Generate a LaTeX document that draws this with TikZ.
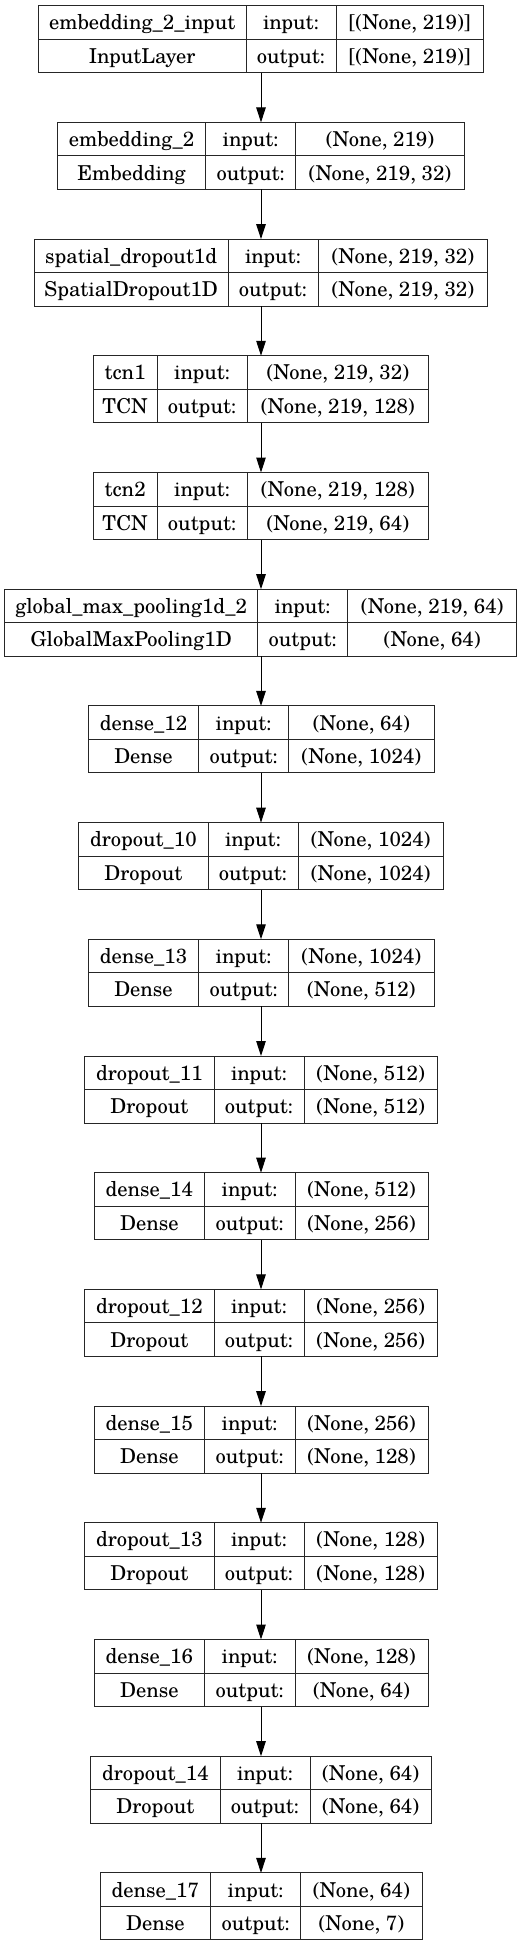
\documentclass[tikz,border=0pt]{standalone}
\usepackage{fontspec}
\setmainfont{TeX Gyre Schola}
\usetikzlibrary{arrows.meta}
\tikzset{
  lbox/.style={draw=black!85, line width=1pt, inner sep=0pt, outer sep=0pt, minimum height=67pt},
  lline/.style={draw=black!85, line width=1pt},
  ltext/.style={inner sep=0pt, anchor=base, font=\fontsize{20.5}{24}\selectfont},
  larrow/.style={draw=black, line width=1pt, -{Triangle[length=15pt,width=9.5pt]}},
}
\newcommand\layerbox[6]{%
  \pgfmathsetmacro\lyt{5.7+#2*116.7}%
  \pgfmathsetmacro\lyb{\lyt+67}%
  \pgfmathsetmacro\lwidth{#6-#3}%
  \pgfmathsetmacro\lca{(#3+#4)/2}%
  \pgfmathsetmacro\lcb{(#4+#5)/2}%
  \pgfmathsetmacro\lcc{(#5+#6)/2}%
  \pgfmathsetmacro\lra{\lyt+16.75+7.4}%
  \pgfmathsetmacro\lrb{\lyt+50.25+7.4}%
  \node[lbox, minimum width=\lwidth pt, anchor=north west] (#1) at (#3,\lyt) {};
  \draw[lline] (#1.west) -- (#1.east);
  \draw[lline] (#4,\lyt) -- (#4,\lyb);
  \draw[lline] (#5,\lyt) -- (#5,\lyb);
}
\newcommand\layertext[5]{%
  \node[ltext] (#1-n) at (\lca,\lra) {#2};
  \node[ltext] (#1-t) at (\lca,\lrb) {#3};
  \node[ltext] (#1-i) at (\lcb,\lra) {input:};
  \node[ltext] (#1-o) at (\lcb,\lrb) {output:};
  \node[ltext] (#1-x) at (\lcc,\lra) {#4};
  \node[ltext] (#1-y) at (\lcc,\lrb) {#5};
}
\begin{document}
\begin{tikzpicture}[x=1pt,y=-1pt]
  \fill[white] (0,0) rectangle (523,1946);
  \useasboundingbox (0,0) rectangle (523,1946);
  \coordinate (ax) at (261,0);

  \layerbox{L0}{0}{38.3}{246}{336}{483.3}
  \layertext{L0}{embedding\_2\_input}{InputLayer}{[(None, 219)]}{[(None, 219)]}
  \layerbox{L1}{1}{57.3}{205.7}{295.7}{464.3}
  \layertext{L1}{embedding\_2}{Embedding}{(None, 219)}{(None, 219, 32)}
  \layerbox{L2}{2}{34.3}{228}{318}{487.7}
  \layertext{L2}{spatial\_dropout1d}{SpatialDropout1D}{(None, 219, 32)}{(None, 219, 32)}
  \layerbox{L3}{3}{93.3}{157}{247.3}{428.3}
  \layertext{L3}{tcn1}{TCN}{(None, 219, 32)}{(None, 219, 128)}
  \layerbox{L4}{4}{93.3}{157}{247.3}{428.3}
  \layertext{L4}{tcn2}{TCN}{(None, 219, 128)}{(None, 219, 64)}
  \layerbox{L5}{5}{4.7}{257.7}{347.7}{516.7}
  \layertext{L5}{global\_max\_pooling1d\_2}{GlobalMaxPooling1D}{(None, 219, 64)}{(None, 64)}
  \layerbox{L6}{6}{88.3}{198.7}{288.7}{434}
  \layertext{L6}{dense\_12}{Dense}{(None, 64)}{(None, 1024)}
  \layerbox{L7}{7}{78.7}{208}{298}{443.3}
  \layertext{L7}{dropout\_10}{Dropout}{(None, 1024)}{(None, 1024)}
  \layerbox{L8}{8}{88.3}{198.7}{288.7}{434}
  \layertext{L8}{dense\_13}{Dense}{(None, 1024)}{(None, 512)}
  \layerbox{L9}{9}{84.7}{214}{304}{437.3}
  \layertext{L9}{dropout\_11}{Dropout}{(None, 512)}{(None, 512)}
  \layerbox{L10}{10}{94.3}{204.3}{295}{428}
  \layertext{L10}{dense\_14}{Dense}{(None, 512)}{(None, 256)}
  \layerbox{L11}{11}{84.7}{214}{304}{437.3}
  \layertext{L11}{dropout\_12}{Dropout}{(None, 256)}{(None, 256)}
  \layerbox{L12}{12}{94.3}{204.3}{295}{428}
  \layertext{L12}{dense\_15}{Dense}{(None, 256)}{(None, 128)}
  \layerbox{L13}{13}{84.7}{214}{304}{437.3}
  \layertext{L13}{dropout\_13}{Dropout}{(None, 128)}{(None, 128)}
  \layerbox{L14}{14}{94.3}{204.3}{295}{428}
  \layertext{L14}{dense\_16}{Dense}{(None, 128)}{(None, 64)}
  \layerbox{L15}{15}{90.7}{220}{310}{431.3}
  \layertext{L15}{dropout\_14}{Dropout}{(None, 64)}{(None, 64)}
  \layerbox{L16}{16}{100}{210.7}{300.7}{422}
  \layertext{L16}{dense\_17}{Dense}{(None, 64)}{(None, 7)}

  \foreach \a/\b in {L0/L1,L1/L2,L2/L3,L3/L4,L4/L5,L5/L6,L6/L7,L7/L8,L8/L9,L9/L10,L10/L11,L11/L12,L12/L13,L13/L14,L14/L15,L15/L16}
    \draw[larrow] (\a.south -| ax) -- (\b.north -| ax);
\end{tikzpicture}
\end{document}
